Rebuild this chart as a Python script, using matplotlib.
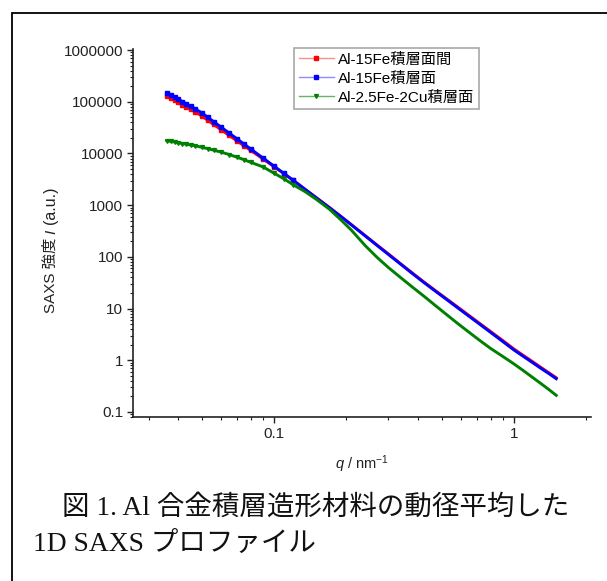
import matplotlib
matplotlib.use("Agg")
import matplotlib.pyplot as plt
from matplotlib.lines import Line2D
from matplotlib.patches import Rectangle
from matplotlib.ticker import LogLocator, NullFormatter
import numpy as np

plt.rcParams['font.family'] = ['Liberation Sans', 'Noto Sans CJK JP', 'DejaVu Sans']
plt.rcParams['mathtext.fontset'] = 'custom'
plt.rcParams['mathtext.rm'] = 'Liberation Sans'
plt.rcParams['mathtext.it'] = 'Liberation Sans:italic'

# scattering vector q (nm^-1)
q = [0.0358, 0.0372, 0.0386, 0.040, 0.0415, 0.043, 0.045, 0.047, 0.050, 0.053,
     0.056, 0.060, 0.065, 0.070, 0.075, 0.080, 0.090, 0.100, 0.110, 0.120,
     0.135, 0.150, 0.170, 0.190, 0.210, 0.240, 0.270, 0.300, 0.340, 0.380,
     0.420, 0.470, 0.520, 0.580, 0.650, 0.720, 0.800, 0.900, 1.00, 1.10,
     1.20, 1.30, 1.40, 1.50]

# Al-15Fe 積層面間 (red)
I_fe_between = [130600, 118000, 106900, 97300, 88100, 80200, 71100, 63400, 53100, 43800,
                36500, 29100, 22400, 17600, 14100, 11500, 7830, 5570, 4070, 3050,
                2020, 1400, 906, 608, 422, 258, 167, 114, 71.4, 47.5,
                33.1, 22.4, 15.8, 10.9, 7.34, 5.16, 3.59, 2.39, 1.65, 1.22,
                0.93, 0.72, 0.57, 0.46]

# Al-15Fe 積層面 (blue)
I_fe_plane = [150000, 135500, 122700, 111700, 101200, 92000, 81600, 72700, 61000, 50000,
              41400, 32700, 24900, 19300, 15200, 12200, 8170, 5700, 4110, 3050,
              2010, 1390, 899, 603, 417, 254, 164, 111, 70.0, 46.4,
              32.3, 21.8, 15.4, 10.5, 7.09, 4.98, 3.45, 2.29, 1.58, 1.17,
              0.89, 0.69, 0.55, 0.44]

# Al-2.5Fe-2Cu 積層面 (green)
I_cu_plane = [17700, 17100, 16600, 16100, 15600, 15100, 14600, 14100, 13200, 12400,
              11600, 10700, 9550, 8510, 7590, 6760, 5500, 4170, 3240, 2500,
              1820, 1300, 840, 520, 330, 165, 96, 62.0, 38.5, 25.4,
              17.6, 11.5, 7.87, 5.24, 3.48, 2.42, 1.69, 1.18, 0.85, 0.62,
              0.46, 0.35, 0.27, 0.21]

labels = ['Al-15Fe積層面間', 'Al-15Fe積層面', 'Al-2.5Fe-2Cu積層面']
ytick_vals = [0.1, 1, 10, 100, 1000, 10000, 100000, 1000000]
ytick_labels = ['0.1', '1', '10', '100', '1000', '10000', '100000', '1000000']
xtick_vals = [0.1, 1]
xtick_labels = ['0.1', '1']

W, H = 607, 581
fig = plt.figure(figsize=(W / 100, H / 100), dpi=100)
ax = fig.add_axes([133 / W, 1 - 417 / H, (591 - 133) / W, (417 - 49) / H])

# markers only show as separate dots at low q, further out they merge into a thick line
low = slice(0, 20)
ax.plot(q, I_fe_between, color='red', lw=2.1, marker='s', ms=2.2, markevery=low, zorder=2)
ax.plot(q, I_fe_plane, color='blue', lw=2.1, marker='s', ms=2.2, markevery=low, zorder=3)
ax.plot(q, I_cu_plane, color='green', lw=2.1, marker='v', ms=2.8, markevery=low, zorder=4)

ax.set_xscale('log')
ax.set_yscale('log')
ax.set_xlim(0.02585, 2.094)
ax.set_ylim(0.08, 1.05e6)

ax.set_xticks(xtick_vals, xtick_labels)
ax.set_yticks(ytick_vals, ytick_labels)
ax.xaxis.set_minor_locator(LogLocator(base=10, subs=np.arange(2, 10), numticks=20))
ax.yaxis.set_minor_locator(LogLocator(base=10, subs=np.arange(2, 10), numticks=20))
ax.xaxis.set_minor_formatter(NullFormatter())
ax.yaxis.set_minor_formatter(NullFormatter())

for s in ['top', 'right']:
    ax.spines[s].set_visible(False)
for s in ['left', 'bottom']:
    ax.spines[s].set_linewidth(1.2)
    ax.spines[s].set_color('#222222')

ax.tick_params(which='major', direction='out', length=4, width=1, colors='#222222',
               labelsize=11, pad=3)
ax.tick_params(which='minor', direction='out', length=2.5, width=0.8, colors='#222222')

ax.set_xlabel(r'$q$ / nm$^{-1}$', fontsize=10.5, color='#222222')
ax.xaxis.set_label_coords(0.5, -0.1)

handles = [
    Line2D([], [], color=(1, 0, 0, 0.45), lw=1, marker='s', ms=2.4, mfc='red', mec='red'),
    Line2D([], [], color=(0, 0, 1, 0.45), lw=1, marker='s', ms=2.4, mfc='blue', mec='blue'),
    Line2D([], [], color=(0, 0.5, 0, 0.6), lw=1, marker='v', ms=2.8, mfc='green', mec='green'),
]
leg = ax.legend(handles, labels, loc='upper left', bbox_to_anchor=(0.3515, 1.003),
                borderaxespad=0, fontsize=11, frameon=True, fancybox=False,
                edgecolor='#a8a8a8', framealpha=1, handlelength=2.3, handletextpad=0.3,
                labelspacing=0.32, borderpad=0.3)
leg.get_frame().set_linewidth(1.2)

# y label in pieces (italic I in the middle)
x0, y0 = 55 / W, 1 - 313 / H
t1 = fig.text(x0, y0, 'SAXS 強度', rotation=90, rotation_mode='anchor',
              ha='left', va='baseline', fontsize=11, color='#222222')
fig.canvas.draw()
r = fig.canvas.get_renderer()
e1 = t1.get_window_extent(r)
t2 = fig.text(x0, (e1.y1 + 4) / H, 'I', rotation=90, rotation_mode='anchor',
              ha='left', va='baseline', fontsize=11, style='italic', color='#222222')
e2 = t2.get_window_extent(r)
fig.text(x0, (e2.y1 + 6) / H, '(a.u.)', rotation=90, rotation_mode='anchor',
         ha='left', va='baseline', fontsize=11.5, color='#222222')

# outer frame
fig.add_artist(Rectangle((11.5 / W, -0.5), 2, 0.5 + 1 - 12.5 / H, transform=fig.transFigure,
                         fill=False, lw=1.3, ec='black'))

cap_font = ['Liberation Serif', 'Noto Sans CJK JP']
fig.text(62 / W, 1 - 515 / H, '図 1. Al 合金積層造形材料の動径平均した', family=cap_font,
         fontsize=19.8, va='baseline', ha='left', color='#111111')
fig.text(33 / W, 1 - 551 / H, '1D SAXS プロファイル', family=cap_font,
         fontsize=19.8, va='baseline', ha='left', color='#111111')

fig.savefig('out.png', dpi=100)
